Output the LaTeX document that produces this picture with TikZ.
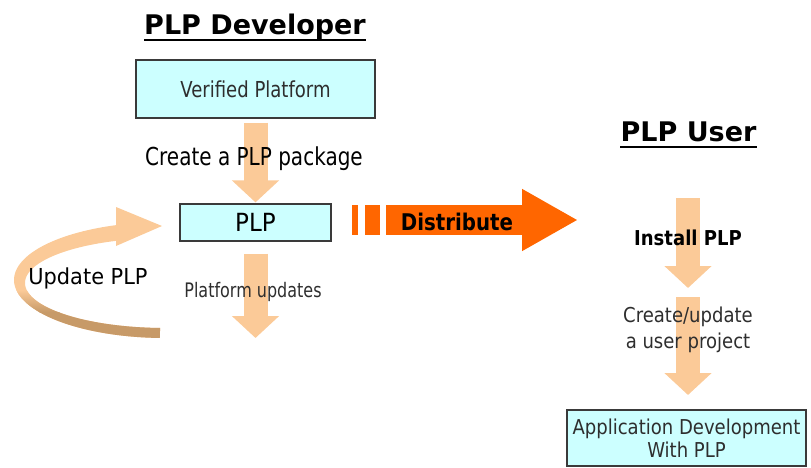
\documentclass[tikz,border=0pt]{standalone}
\usepackage{fontspec}
\setmainfont{DejaVu Sans}
\usetikzlibrary{arrows.meta}
\definecolor{boxfill}{HTML}{CCFFFF}
\definecolor{boxline}{HTML}{3A3A3A}
\definecolor{peach}{HTML}{FBCA98}
\definecolor{tan}{HTML}{C79A68}
\definecolor{distorange}{HTML}{FF6600}
\definecolor{txtgray}{HTML}{2E2E2E}
\pgfdeclarelayer{background}
\pgfsetlayers{background,main}
\tikzset{
  stagebox/.style={draw=boxline, line width=1.2pt, fill=boxfill, inner sep=0pt},
  title/.style={font=\bfseries\fontsize{27}{31}\selectfont, inner sep=0pt, anchor=base},
  flowarrow/.style={peach, line width=24pt, -{Triangle[width=46pt,length=22pt]}},
  txt/.style={inner sep=0pt, align=center},
}
\begin{document}
\begin{tikzpicture}[x=1pt, y=-1pt]
\useasboundingbox (0,0) rectangle (811,468);

% developer side
\node[title] (devtitle) at (255,35) {PLP Developer};
\draw[line width=1.4pt] ([yshift=-5pt]devtitle.base west) -- ([yshift=-5pt]devtitle.base east);
\node[stagebox, minimum width=239pt, minimum height=58pt] (vp) at (255.5,89) {};
\node[txt, xscale=0.82, font=\fontsize{22}{26}\selectfont, text=txtgray] (vptext) at (vp) {Verified Platform};
\node[stagebox, minimum width=151pt, minimum height=37pt] (plp) at (255.5,222.5) {};
\node[txt, xscale=0.92, font=\fontsize{25}{29}\selectfont] (plptext) at (plp) {PLP};
\coordinate (updend) at (255.5,338);

\node[txt, xscale=0.81, font=\fontsize{24.7}{28}\selectfont] (create) at (254,159) {Create a PLP package};
\node[txt, xscale=0.8, font=\fontsize{20}{23}\selectfont, text=txtgray] (platupd) at (253,292) {Platform updates};
\node[txt, xscale=0.95, font=\fontsize{22}{25}\selectfont] (updlabel) at (88,278) {Update PLP};

% distribution
\node[txt, xscale=0.86, font=\bfseries\fontsize{23}{26}\selectfont] (dist) at (457,222) {Distribute};
\coordinate (diststart) at (386,220);
\coordinate (distend) at (578,220);

% user side
\node[title] (usertitle) at (688.5,142) {PLP User};
\draw[line width=1.4pt] ([yshift=-5pt]usertitle.base west) -- ([yshift=-5pt]usertitle.base east);
\coordinate (inst1) at (688,198);
\coordinate (inst2) at (688,288);
\coordinate (proj1) at (688,297);
\coordinate (proj2) at (688,395);
\node[txt, xscale=0.88, font=\bfseries\fontsize{20.5}{24}\selectfont] (install) at (688,238) {Install PLP};
\node[txt, xscale=0.88, font=\fontsize{20.5}{26}\selectfont, text=txtgray] (project) at (688,330) {Create/update\\a user project};
\node[stagebox, minimum width=239pt, minimum height=56pt] (app) at (686.5,438) {};
\node[txt, xscale=0.88, font=\fontsize{20.5}{23}\selectfont, text=txtgray] (apptext) at (app) {Application Development\\With PLP};

\begin{pgfonlayer}{background}
  % straight flow arrows
  \draw[flowarrow, shorten <=4pt, shorten >=1pt] (vp.south) -- (plp.north);
  \draw[flowarrow, shorten <=12pt] (plp.south) -- (updend);
  \draw[flowarrow] (inst1) -- (inst2);
  \draw[flowarrow] (proj1) -- (proj2);
  % distribute arrow with leading bars
  \fill[distorange] (352,205) rectangle (358,235);
  \fill[distorange] (365,205) rectangle (380,235);
  \draw[distorange, line width=30pt, -{Triangle[width=58pt,length=56pt]}] (diststart) -- (distend);
  % curved update arrow: ring band, light on top, darker underneath
  \begin{scope}
    \path[clip]
      plot[domain=108.5:268, samples=80] ({165+151*cos(\x)}, {280-58*sin(\x)})
      -- plot[domain=268:110, samples=80] ({165+140*cos(\x)}, {283-45*sin(\x)}) -- cycle;
    \fill[peach] (0,200) rectangle (200,345);
    \shade[top color=peach, bottom color=tan] (0,290) rectangle (200,312);
    \fill[tan] (0,312) rectangle (200,345);
  \end{scope}
  \fill[peach] (116,207) -- (162,226) -- (116,246) -- cycle;
\end{pgfonlayer}
\end{tikzpicture}
\end{document}
